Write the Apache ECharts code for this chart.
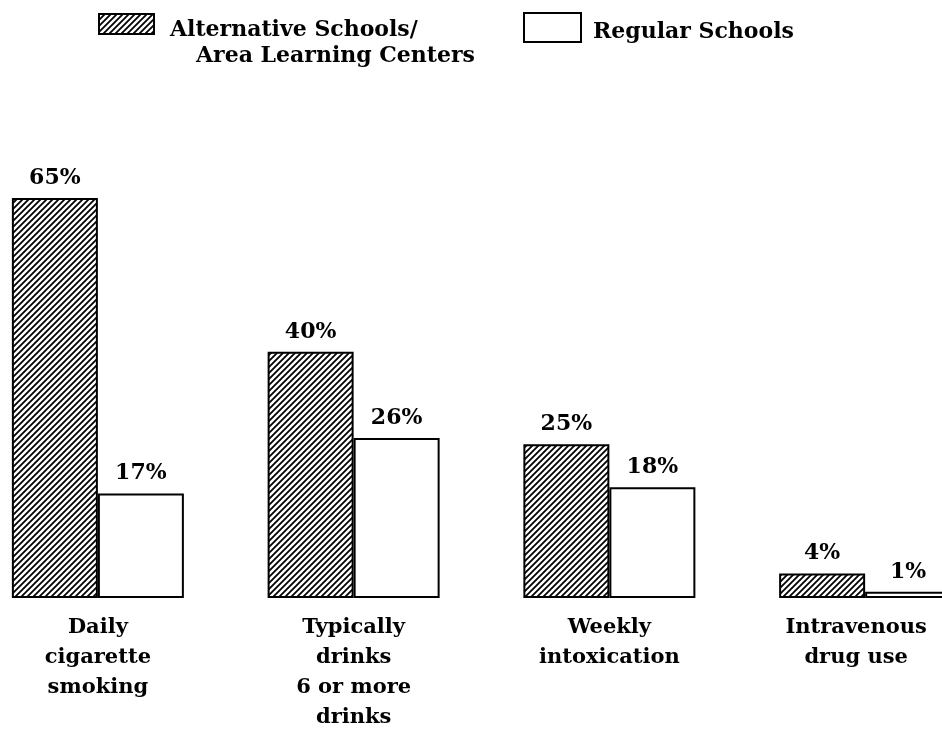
<!DOCTYPE html>
<html>
<head>
<meta charset="utf-8">
<script src="https://cdn.jsdelivr.net/npm/echarts@6/dist/echarts.min.js"></script>
<style>
  html, body { margin: 0; padding: 0; background: #fff; }
  #chart { width: 942px; height: 729px; }
</style>
</head>
<body>
<div id="chart"></div>
<script>
// data
const categories = ["Daily\ncigarette\nsmoking", "Typically\ndrinks\n6 or more\ndrinks", "Weekly\nintoxication", "Intravenous\ndrug use"];
const altSchools = [65, 40, 25, 4];
const regularSchools = [17, 26, 18, 1];
const seriesNames = ["Alternative Schools/", "Regular Schools"];

const FONT = "DejaVu Serif";

// diagonal hatch fill
function hatch() {
  const c = document.createElement("canvas");
  c.width = 6;
  c.height = 6;
  const ctx = c.getContext("2d");
  ctx.fillStyle = "#fff";
  ctx.fillRect(0, 0, 6, 6);
  ctx.strokeStyle = "#000";
  ctx.lineWidth = 1.8;
  ctx.beginPath();
  ctx.moveTo(-1, 7); ctx.lineTo(7, -1);
  ctx.moveTo(-4, 4); ctx.lineTo(4, -4);
  ctx.moveTo(2, 10); ctx.lineTo(10, 2);
  ctx.stroke();
  return c;
}
const hatchFill = { image: hatch(), repeat: "repeat" };

const labelStyle = {
  show: true,
  position: "top",
  distance: 9,
  formatter: "{c}%",
  color: "#000",
  fontFamily: FONT,
  fontWeight: "bold",
  fontSize: 22
};

const legendFont = "bold 22px '" + FONT + "'";

// last label sits a little left of its bars (cut at the page edge)
const xData = categories.map((c, i) =>
  i === 3 ? { value: c, textStyle: { padding: [0, 18, 0, 0] } } : c
);

const chart = echarts.init(document.getElementById("chart"));
chart.setOption({
  animation: false,
  backgroundColor: "#fff",
  // legend draws the swatches, text placed by graphic below (sits lower than the swatch)
  legend: [
    {
      data: [seriesNames[0]],
      icon: "rect",
      left: 98,
      top: 13,
      itemWidth: 55,
      itemHeight: 20,
      padding: 0,
      formatter: () => "",
      itemStyle: { borderColor: "#000", borderWidth: 2 }
    },
    {
      data: [seriesNames[1]],
      icon: "rect",
      left: 523,
      top: 12,
      itemWidth: 57,
      itemHeight: 29,
      padding: 0,
      formatter: () => "",
      itemStyle: { borderColor: "#000", borderWidth: 2 }
    }
  ],
  graphic: [
    {
      type: "text",
      left: 170,
      top: 19,
      style: { text: seriesNames[0], fill: "#000", font: legendFont }
    },
    {
      type: "text",
      left: 196,
      top: 45,
      style: { text: "Area Learning Centers", fill: "#000", font: legendFont }
    },
    {
      type: "text",
      left: 593,
      top: 21,
      style: { text: seriesNames[1], fill: "#000", font: legendFont }
    }
  ],
  grid: { left: -30, right: -51, top: 198, bottom: 131, outerBoundsMode: "none" },
  xAxis: {
    type: "category",
    data: xData,
    axisLine: { show: false },
    axisTick: { show: false },
    axisLabel: {
      interval: 0,
      margin: 15,
      color: "#000",
      fontFamily: FONT,
      fontWeight: "bold",
      fontSize: 21,
      lineHeight: 30
    }
  },
  yAxis: {
    type: "value",
    min: 0,
    max: 65,
    show: false,
    splitLine: { show: false }
  },
  series: [
    {
      name: seriesNames[0],
      type: "bar",
      data: altSchools,
      barWidth: 86,
      barGap: "0%",
      itemStyle: { color: hatchFill, borderColor: "#000", borderWidth: 2 },
      label: labelStyle
    },
    {
      name: seriesNames[1],
      type: "bar",
      data: regularSchools,
      barWidth: 86,
      itemStyle: { color: "#fff", borderColor: "#000", borderWidth: 2 },
      label: labelStyle
    }
  ]
});
</script>
</body>
</html>
